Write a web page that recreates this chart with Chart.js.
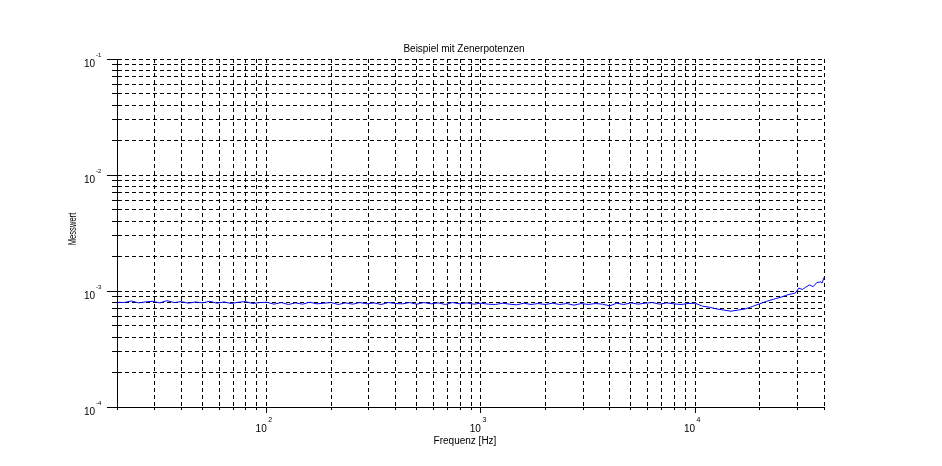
<!DOCTYPE html>
<html>
<head>
<meta charset="utf-8">
<script src="https://cdn.jsdelivr.net/npm/chart.js@4/dist/chart.umd.min.js"></script>
<style>
  html, body { margin: 0; padding: 0; background: #fff; }
  canvas { display: block; }
</style>
</head>
<body>
<canvas id="myChart" width="942" height="466"></canvas>
<script>
// frequencies in Hz
var frequenz = [
  20, 21.6, 23.3, 25.2, 27.2, 29.4, 31.7, 34.2, 37.0, 39.9,
  43.1, 46.5, 50.2, 54.2, 58.6, 63.2, 68.3, 73.7, 79.6, 86.0,
  92.8, 100.2, 108.2, 116.9, 126.2, 136.3, 147.1, 158.9, 171.5, 185.2,
  200, 216, 233, 252, 272, 294, 317, 342, 370, 399,
  431, 465, 502, 542, 586, 632, 683, 737, 796, 860,
  928, 1002, 1082, 1169, 1262, 1363, 1471, 1589, 1715, 1852,
  2000, 2160, 2330, 2520, 2720, 2940, 3170, 3420, 3700, 3990,
  4310, 4650, 5020, 5420, 5860, 6320, 6830, 7370, 7960, 8600,
  9280, 10020, 10820, 11690, 12620, 13630, 14710, 15890, 17150, 18520,
  20000, 21600, 23300, 25200, 27200, 29400, 30500, 31700, 32900, 34200,
  35600, 37000, 38500, 39200, 40000
];

var messwert = [
  8.0e-4, 7.95e-4, 8.2e-4, 7.9e-4, 8.05e-4, 8.15e-4, 7.9e-4, 8.25e-4, 7.95e-4, 8.1e-4,
  7.85e-4, 8.05e-4, 7.9e-4, 8.15e-4, 7.85e-4, 8.05e-4, 7.8e-4, 8.0e-4, 8.1e-4, 7.8e-4,
  7.95e-4, 8.0e-4, 7.7e-4, 7.95e-4, 7.65e-4, 7.9e-4, 7.7e-4, 8.0e-4, 7.75e-4, 7.85e-4,
  7.95e-4, 7.65e-4, 7.9e-4, 7.7e-4, 7.95e-4, 7.75e-4, 7.9e-4, 7.65e-4, 7.95e-4, 7.8e-4,
  7.75e-4, 7.95e-4, 7.7e-4, 7.95e-4, 7.75e-4, 7.9e-4, 7.65e-4, 7.95e-4, 7.75e-4, 7.9e-4,
  7.7e-4, 7.85e-4, 7.7e-4, 7.65e-4, 7.85e-4, 7.7e-4, 7.6e-4, 7.85e-4, 7.65e-4, 7.8e-4,
  7.65e-4, 7.85e-4, 7.65e-4, 7.8e-4, 7.55e-4, 7.8e-4, 7.65e-4, 7.8e-4, 7.7e-4, 7.45e-4,
  7.85e-4, 7.65e-4, 7.9e-4, 7.7e-4, 7.85e-4, 7.95e-4, 7.7e-4, 7.9e-4, 7.75e-4, 7.65e-4,
  7.8e-4, 7.85e-4, 7.4e-4, 7.25e-4, 7.0e-4, 6.85e-4, 6.7e-4, 6.85e-4, 7.0e-4, 7.35e-4,
  7.75e-4, 8.15e-4, 8.5e-4, 8.85e-4, 9.3e-4, 9.6e-4, 1.06e-3, 1.03e-3, 1.08e-3, 1.13e-3,
  1.09e-3, 1.18e-3, 1.2e-3, 1.17e-3, 1.31e-3
];

var xMin = 20, xMax = 40000;
var yMin = 1e-4, yMax = 1e-1;
var xMajor = [100, 1000, 10000];
var xMajorExp = ['2', '3', '4'];
var yMajor = [1e-4, 1e-3, 1e-2, 1e-1];
var yMajorExp = ['-4', '-3', '-2', '-1'];

var FONT = '"Liberation Sans", Arial, sans-serif';

// grid values 1..9 x 10^n inside range
function logGrid(min, max) {
  var out = [];
  for (var e = Math.floor(Math.log10(min)); e <= Math.ceil(Math.log10(max)); e++) {
    for (var m = 1; m <= 9; m++) {
      var v = +(m * Math.pow(10, e)).toPrecision(6);
      if (v >= min * 0.999 && v <= max * 1.001) out.push(v);
    }
  }
  return out;
}
var xGrid = logGrid(xMin, xMax);
var yGrid = logGrid(yMin, yMax);

function isMajor(list, v) {
  for (var i = 0; i < list.length; i++) {
    if (Math.abs(list[i] - v) / list[i] < 1e-6) return true;
  }
  return false;
}
function align(p) { return Math.round(p - 0.5) + 0.5; }

var scilabDeco = {
  id: 'scilabDeco',
  afterDraw: function (chart) {
    var ctx = chart.ctx, xs = chart.scales.x, ys = chart.scales.y, a = chart.chartArea;
    ctx.save();
    ctx.strokeStyle = '#000';
    ctx.lineWidth = 1;
    ctx.beginPath();
    xGrid.forEach(function (v) {
      var px = align(xs.getPixelForValue(v));
      var len = isMajor(xMajor, v) ? 6 : 3;
      ctx.moveTo(px, a.bottom);
      ctx.lineTo(px, a.bottom + len);
    });
    yGrid.forEach(function (v) {
      var py = align(ys.getPixelForValue(v));
      var len = isMajor(yMajor, v) ? 10 : 5;
      ctx.moveTo(a.left, py);
      ctx.lineTo(a.left - len, py);
    });
    ctx.stroke();

    ctx.fillStyle = '#000';
    ctx.textBaseline = 'alphabetic';

    // y tick labels 10^n
    yMajor.forEach(function (v, i) {
      var py = ys.getPixelForValue(v);
      ctx.font = '10px ' + FONT;
      ctx.textAlign = 'right';
      ctx.fillText('10', 95, py + 8);
      ctx.font = '6px ' + FONT;
      ctx.textAlign = 'left';
      ctx.fillText(yMajorExp[i], 96, py - 2);
    });

    // x tick labels 10^n
    xMajor.forEach(function (v, i) {
      var px = xs.getPixelForValue(v);
      ctx.font = '10px ' + FONT;
      ctx.textAlign = 'right';
      ctx.fillText('10', px, 432);
      ctx.font = '7px ' + FONT;
      ctx.textAlign = 'left';
      ctx.fillText(xMajorExp[i], px + 1.5, 422);
    });

    // title and axis titles
    ctx.font = '10px ' + FONT;
    ctx.textAlign = 'center';
    ctx.fillText('Beispiel mit Zenerpotenzen', 464, 52);
    ctx.fillText('Frequenz [Hz]', 465, 444);

    ctx.translate(76, 229);
    ctx.rotate(-Math.PI / 2);
    ctx.scale(0.76, 1);
    ctx.font = '10px ' + FONT;
    ctx.fillText('Messwert', 0, 0);
    ctx.restore();
  }
};

var ctx = document.getElementById('myChart');

var chart = new Chart(ctx, {
  type: 'line',
  data: {
    datasets: [{
      label: 'Messwert',
      data: frequenz.map(function (f, i) { return { x: f, y: messwert[i] }; }),
      borderColor: '#0000ff',
      borderWidth: 1,
      pointRadius: 0,
      fill: false,
      tension: 0
    }]
  },
  options: {
    responsive: false,
    animation: false,
    devicePixelRatio: 1,
    layout: { padding: { top: 59, right: 118, bottom: 0, left: 0 } },
    plugins: {
      legend: { display: false },
      tooltip: { enabled: false },
      title: { display: false }
    },
    scales: {
      x: {
        type: 'logarithmic',
        min: xMin,
        max: xMax,
        bounds: 'data',
        afterBuildTicks: function (s) { s.ticks = xGrid.map(function (v) { return { value: v }; }); },
        afterFit: function (s) { s.height = 59; },
        ticks: { display: false },
        grid: { color: '#000', lineWidth: 1, drawTicks: false },
        border: { display: true, color: '#000', width: 1, dash: [4, 3] }
      },
      y: {
        type: 'logarithmic',
        min: yMin,
        max: yMax,
        bounds: 'data',
        afterBuildTicks: function (s) { s.ticks = yGrid.map(function (v) { return { value: v }; }); },
        afterFit: function (s) { s.width = 117; },
        ticks: { display: false },
        grid: { color: '#000', lineWidth: 1, drawTicks: false },
        border: { display: true, color: '#000', width: 1, dash: [4, 3] }
      }
    }
  },
  plugins: [scilabDeco]
});
</script>
</body>
</html>
